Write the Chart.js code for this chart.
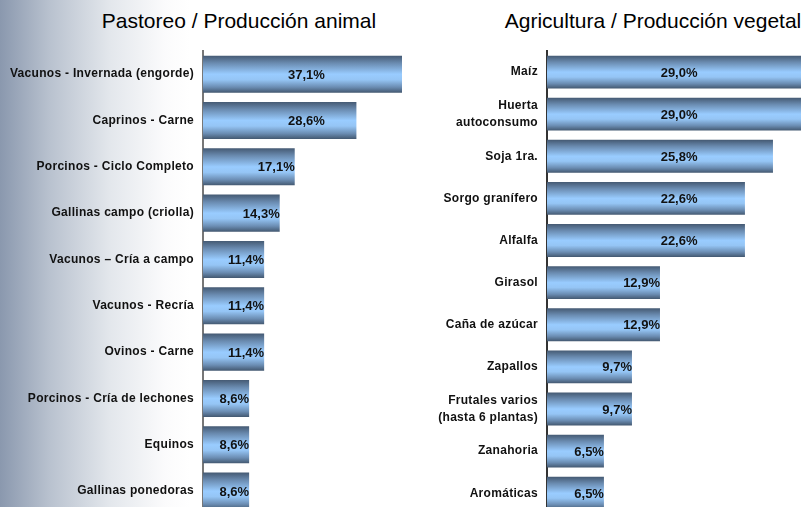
<!DOCTYPE html>
<html>
<head>
<meta charset="utf-8">
<script src="https://cdn.jsdelivr.net/npm/chart.js@4.4.1/dist/chart.umd.min.js"></script>
<style>
    html, body {
        margin: 0;
        padding: 0;
        width: 810px;
        height: 507px;
        overflow: hidden;
    }
    body {
        position: relative;
        background: linear-gradient(to right, #8a98ae 0px, #b9c2cf 50px, #e3e7ec 110px, #fbfbfc 165px, #ffffff 190px);
        font-family: "Liberation Sans", Arial, sans-serif;
    }
    .title {
        position: absolute;
        top: 9px;
        width: 400px;
        text-align: center;
        font-size: 21px;
        line-height: 24px;
        color: #000;
        white-space: nowrap;
    }
    canvas {
        position: absolute;
        top: 0;
    }
</style>
</head>
<body>
<div class="title" style="left:39px">Pastoreo / Producción animal</div>
<div class="title" style="left:453px">Agricultura / Producción vegetal</div>
<canvas id="pastoreoChart" width="405" height="532" style="left:0"></canvas>
<canvas id="agriChart" width="405" height="532" style="left:405px"></canvas>

<script>
// Pastoreo / Produccion animal
const pastoreoLabels = [
    'Vacunos - Invernada (engorde)',
    'Caprinos - Carne',
    'Porcinos - Ciclo Completo',
    'Gallinas campo (criolla)',
    'Vacunos – Cría a campo',
    'Vacunos - Recría',
    'Ovinos - Carne',
    'Porcinos - Cría de lechones',
    'Equinos',
    'Gallinas ponedoras'
];
const pastoreoValues = [37.1, 28.6, 17.1, 14.3, 11.4, 11.4, 11.4, 8.6, 8.6, 8.6];

// Agricultura / Produccion vegetal
const agriLabels = [
    'Maíz',
    ['Huerta', 'autoconsumo'],
    'Soja 1ra.',
    'Sorgo granífero',
    'Alfalfa',
    'Girasol',
    'Caña de azúcar',
    'Zapallos',
    ['Frutales varios', '(hasta 6 plantas)'],
    'Zanahoria',
    'Aromáticas'
];
const agriValues = [29.0, 29.0, 25.8, 22.6, 22.6, 12.9, 12.9, 9.7, 9.7, 6.5, 6.5];

function formatPct(v) {
    return v.toFixed(1).replace('.', ',') + '%';
}

// gradient oscuro-claro-oscuro en cada barra
const barGradientPlugin = {
    id: 'barGradient',
    beforeDraw(chart) {
        // las etiquetas del eje se ven algo espaciadas
        chart.ctx.letterSpacing = '0.3px';
    },
    beforeDatasetsDraw(chart) {
        const ctx = chart.ctx;
        chart.getDatasetMeta(0).data.forEach(bar => {
            const top = bar.y - bar.height / 2;
            const bottom = bar.y + bar.height / 2;
            const g = ctx.createLinearGradient(0, top, 0, bottom);
            g.addColorStop(0, '#455a73');
            g.addColorStop(0.2, '#6a8bb0');
            g.addColorStop(0.5, '#99ccff');
            g.addColorStop(0.65, '#95c5f5');
            g.addColorStop(0.85, '#6b8db3');
            g.addColorStop(1, '#435870');
            bar.options = Object.assign({}, bar.options, { backgroundColor: g });
        });
    }
};

// etiquetas de valor dentro de las barras
const valueLabelPlugin = {
    id: 'valueLabels',
    afterDatasetsDraw(chart) {
        const ctx = chart.ctx;
        const values = chart.data.datasets[0].data;
        const areaW = chart.chartArea.width;
        ctx.save();
        ctx.letterSpacing = '0px';
        ctx.font = 'bold 13px "Liberation Sans", Arial, sans-serif';
        ctx.fillStyle = '#111';
        ctx.textAlign = 'center';
        ctx.textBaseline = 'middle';
        chart.getDatasetMeta(0).data.forEach((bar, i) => {
            const text = formatPct(values[i]);
            const tw = ctx.measureText(text).width;
            const cx = Math.min(bar.x - tw / 2, bar.base + areaW * 0.52);
            ctx.fillText(text, cx, bar.y + 1);
        });
        ctx.restore();
    }
};

function makeChart(id, labels, values, axisWidth, padRight, barPct, borderColor) {
    return new Chart(document.getElementById(id), {
        type: 'bar',
        data: {
            labels: labels,
            datasets: [{
                data: values,
                backgroundColor: '#99ccff',
                borderWidth: 0,
                categoryPercentage: 1,
                barPercentage: barPct
            }]
        },
        options: {
            indexAxis: 'y',
            responsive: false,
            animation: false,
            devicePixelRatio: 1,
            layout: {
                padding: { top: 51, right: padRight, bottom: 0, left: 0 }
            },
            plugins: {
                legend: { display: false },
                tooltip: { enabled: false }
            },
            scales: {
                x: {
                    display: false,
                    min: 0,
                    max: Math.max(...values)
                },
                y: {
                    grid: { display: false, drawTicks: false, tickLength: 0 },
                    border: { display: true, color: borderColor, width: 2 },
                    ticks: {
                        color: '#111',
                        padding: 9,
                        font: { family: '"Liberation Sans", Arial, sans-serif', size: 12, weight: 'bold', lineHeight: 1.45 }
                    },
                    afterFit(scale) {
                        scale.width = axisWidth;
                    }
                }
            }
        },
        plugins: [barGradientPlugin, valueLabelPlugin]
    });
}

makeChart('pastoreoChart', pastoreoLabels, pastoreoValues, 203, 3, 0.8, '#777777');
makeChart('agriChart', agriLabels, agriValues, 142, 9, 0.78, '#333333');
</script>
</body>
</html>
